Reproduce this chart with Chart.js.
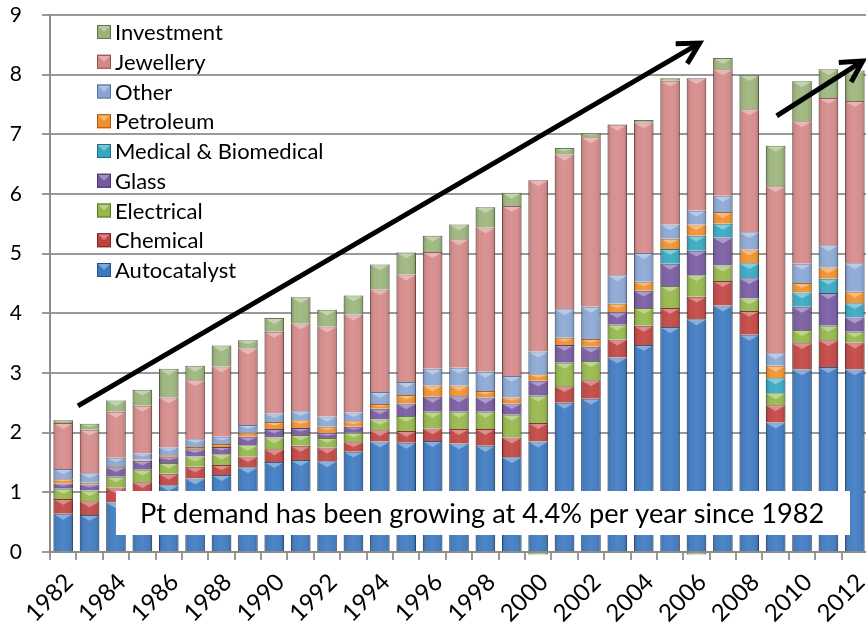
<!DOCTYPE html>
<html>
<head>
<meta charset="utf-8">
<script src="https://cdn.jsdelivr.net/npm/chart.js@4"></script>
<style>
html, body { margin: 0; padding: 0; background: #fff; overflow: hidden; }
#wrap { width: 866px; height: 624px; overflow: hidden; }
#box { width: 872px; height: 624px; }
</style>
</head>
<body>
<div id="wrap"><div id="box"><canvas id="graficoPlatino"></canvas></div></div>
<script>
// Pt demand by application, 1982-2012
const years = ['1982','1983','1984','1985','1986','1987','1988','1989','1990','1991','1992',
  '1993','1994','1995','1996','1997','1998','1999','2000','2001','2002','2003','2004',
  '2005','2006','2007','2008','2009','2010','2011','2012'];

const autocatalyst = [0.64,0.62,0.83,0.97,1.12,1.23,1.29,1.42,1.51,1.54,1.52,1.68,1.85,1.83,1.86,1.82,1.78,1.59,1.85,2.50,2.57,3.26,3.47,3.77,3.90,4.13,3.64,2.17,3.06,3.10,3.06];
const chemical     = [0.25,0.23,0.25,0.20,0.19,0.20,0.17,0.18,0.21,0.24,0.23,0.16,0.19,0.20,0.21,0.24,0.28,0.33,0.31,0.28,0.31,0.30,0.32,0.32,0.38,0.41,0.40,0.29,0.44,0.45,0.45];
const electrical   = [0.17,0.18,0.18,0.21,0.18,0.17,0.18,0.19,0.20,0.18,0.16,0.16,0.18,0.25,0.28,0.29,0.29,0.38,0.46,0.39,0.32,0.25,0.30,0.37,0.36,0.26,0.21,0.20,0.22,0.24,0.18];
const glass        = [0.09,0.10,0.16,0.15,0.10,0.12,0.12,0.14,0.14,0.12,0.08,0.10,0.18,0.21,0.25,0.26,0.24,0.19,0.25,0.30,0.24,0.21,0.29,0.37,0.41,0.47,0.34,0.00,0.39,0.55,0.24];
const medical      = [0,0,0,0,0,0,0,0,0,0,0,0,0,0,0,0,0,0,0,0,0,0,0,0.25,0.25,0.23,0.25,0.25,0.24,0.24,0.24];
const petroleum    = [0.07,0.03,0.02,0.02,0.03,0.04,0.05,0.07,0.12,0.13,0.11,0.09,0.08,0.14,0.19,0.18,0.11,0.10,0.11,0.12,0.13,0.14,0.15,0.17,0.19,0.20,0.23,0.21,0.16,0.19,0.19];
const other        = [0.17,0.16,0.14,0.10,0.13,0.13,0.12,0.13,0.14,0.15,0.17,0.15,0.20,0.22,0.28,0.30,0.32,0.36,0.38,0.48,0.54,0.48,0.48,0.24,0.23,0.27,0.29,0.21,0.32,0.37,0.48];
const jewellery    = [0.77,0.73,0.77,0.80,0.84,0.99,1.18,1.28,1.37,1.47,1.51,1.64,1.72,1.80,1.96,2.15,2.42,2.85,2.87,2.59,2.84,2.52,2.19,2.41,2.22,2.12,2.06,2.80,2.39,2.47,2.72];
const investment   = [0.05,0.10,0.19,0.27,0.48,0.24,0.35,0.14,0.23,0.44,0.28,0.32,0.42,0.37,0.27,0.25,0.34,0.22,-0.04,0.11,0.07,0.01,0.04,0.04,-0.04,0.19,0.57,0.68,0.67,0.48,0.51];

const yTicks = [0,1,2,3,4,5,6,7,8,9];
const note = 'Pt demand has been growing at 4.4% per year since 1982';
// arrows in data units: [fromIndex, fromValue, toIndex, toValue]
const arrows = [[0.56, 2.45, 24.12, 8.53], [27.04, 7.31, 30.3, 8.23]];

const series = [
  { label: 'Autocatalyst', data: autocatalyst, color: '#3b78c0', edge: '#24507f' },
  { label: 'Chemical', data: chemical, color: '#c0423e', edge: '#7d2422' },
  { label: 'Electrical', data: electrical, color: '#93b648', edge: '#5c7528' },
  { label: 'Glass', data: glass, color: '#7558a0', edge: '#4a3568' },
  { label: 'Medical & Biomedical', data: medical, color: '#34a6c1', edge: '#1f6d80' },
  { label: 'Petroleum', data: petroleum, color: '#ef8f2c', edge: '#a55a12' },
  { label: 'Other', data: other, color: '#88a5d2', edge: '#53709c' },
  { label: 'Jewellery', data: jewellery, color: '#d48887', edge: '#8c4f4e' },
  { label: 'Investment', data: investment, color: '#9ab379', edge: '#5f7446' }
];

const FONT = 'Lato, "Open Sans", sans-serif';

const bevel = {
  id: 'bevel',
  afterDatasetsDraw(chart) {
    const ctx = chart.ctx;
    ctx.save();
    chart.data.datasets.forEach((ds, i) => {
      chart.getDatasetMeta(i).data.forEach(el => {
        const top = Math.min(el.y, el.base), bot = Math.max(el.y, el.base);
        const h = bot - top, w = el.width;
        if (h < 1) return;
        const l = el.x - w / 2;
        const g = ctx.createLinearGradient(l, 0, l + w, 0);
        g.addColorStop(0, 'rgba(0,0,0,0.22)');
        g.addColorStop(0.25, 'rgba(255,255,255,0.06)');
        g.addColorStop(0.5, 'rgba(255,255,255,0.10)');
        g.addColorStop(0.75, 'rgba(255,255,255,0.06)');
        g.addColorStop(1, 'rgba(0,0,0,0.22)');
        ctx.fillStyle = g;
        ctx.fillRect(l, top, w, h);
        const th = Math.min(h * 0.5, w * 0.3);
        ctx.fillStyle = 'rgba(255,255,255,0.35)';
        ctx.beginPath();
        ctx.moveTo(l + 1, top + 1);
        ctx.lineTo(l + w - 1, top + 1);
        ctx.lineTo(el.x, top + th);
        ctx.closePath();
        ctx.fill();
      });
    });
    ctx.restore();
  }
};

const extras = {
  id: 'extras',
  afterDraw(chart) {
    const ctx = chart.ctx;
    const area = chart.chartArea, ys = chart.scales.y;
    const step = (area.right - area.left) / years.length;
    const px = idx => area.left + (idx + 0.5) * step;
    ctx.save();
    // note box
    ctx.fillStyle = '#fff';
    ctx.fillRect(116, 491, 734, 44);
    ctx.fillStyle = '#000';
    ctx.font = '27.2px ' + FONT;
    ctx.textBaseline = 'middle';
    ctx.textAlign = 'left';
    ctx.fillText(note, 140, 514);
    // arrows
    ctx.strokeStyle = '#000';
    ctx.lineWidth = 5;
    ctx.lineCap = 'butt';
    ctx.lineJoin = 'miter';
    arrows.forEach(a => {
      const x0 = px(a[0]), y0 = ys.getPixelForValue(a[1]);
      const x1 = px(a[2]), y1 = ys.getPixelForValue(a[3]);
      const ang = Math.atan2(y1 - y0, x1 - x0);
      ctx.beginPath();
      ctx.moveTo(x0, y0);
      ctx.lineTo(x1 - 3 * Math.cos(ang), y1 - 3 * Math.sin(ang));
      ctx.stroke();
      const hl = 24;
      ctx.beginPath();
      ctx.moveTo(x1 - hl * Math.cos(ang - 0.5), y1 - hl * Math.sin(ang - 0.5));
      ctx.lineTo(x1, y1);
      ctx.lineTo(x1 - hl * Math.cos(ang + 0.5), y1 - hl * Math.sin(ang + 0.5));
      ctx.stroke();
    });
    // legend, top item is the last series
    ctx.font = '22px ' + FONT;
    ctx.textBaseline = 'middle';
    const rev = series.slice().reverse();
    rev.forEach((s, k) => {
      const cy = 32 + k * 29.75;
      ctx.fillStyle = s.color;
      ctx.fillRect(97, cy - 7, 14, 14);
      ctx.fillStyle = 'rgba(255,255,255,0.35)';
      ctx.beginPath();
      ctx.moveTo(98, cy - 6);
      ctx.lineTo(110, cy - 6);
      ctx.lineTo(104, cy);
      ctx.closePath();
      ctx.fill();
      ctx.strokeStyle = s.edge;
      ctx.lineWidth = 1;
      ctx.strokeRect(97.5, cy - 6.5, 13, 13);
      ctx.fillStyle = '#000';
      ctx.fillText(s.label, 115, cy + 1);
    });
    ctx.restore();
  }
};

document.addEventListener('DOMContentLoaded', function() {
  const ctx = document.getElementById('graficoPlatino').getContext('2d');
  new Chart(ctx, {
    type: 'bar',
    data: {
      labels: years,
      datasets: series.map(s => ({
        label: s.label,
        data: s.data,
        backgroundColor: s.color,
        borderColor: s.edge,
        borderWidth: 1,
        clip: false,
        barPercentage: 0.74,
        categoryPercentage: 1.0
      }))
    },
    options: {
      responsive: true,
      maintainAspectRatio: false,
      animation: false,
      layout: { padding: { top: 15, right: 4, left: 0, bottom: 0 } },
      plugins: { legend: { display: false }, tooltip: { enabled: false } },
      scales: {
        x: {
          stacked: true,
          grid: { display: true, drawOnChartArea: false, offset: true, tickLength: 8, color: '#999', lineWidth: 2 },
          border: { display: true, color: '#8c8c8c', width: 2 },
          ticks: {
            autoSkip: false, minRotation: 45, maxRotation: 45, padding: 8, labelOffset: 6,
            color: '#000', font: { family: FONT, size: 24 },
            callback: (v, i) => (i % 2 === 0 ? years[i] : '')
          },
          afterFit: s => { s.height = 72; s.paddingLeft = 0; s.paddingRight = 0; }
        },
        y: {
          stacked: true,
          min: 0,
          max: 9,
          afterBuildTicks: s => { s.ticks = yTicks.map(v => ({ value: v })); },
          grid: { color: '#999', lineWidth: 2, tickLength: 8 },
          border: { color: '#8c8c8c', width: 2 },
          ticks: { color: '#000', padding: 20, font: { family: FONT, size: 21 } },
          afterFit: s => { s.width = 50; s.paddingTop = 0; s.paddingBottom = 0; }
        }
      }
    },
    plugins: [bevel, extras]
  });
});
</script>
</body>
</html>
